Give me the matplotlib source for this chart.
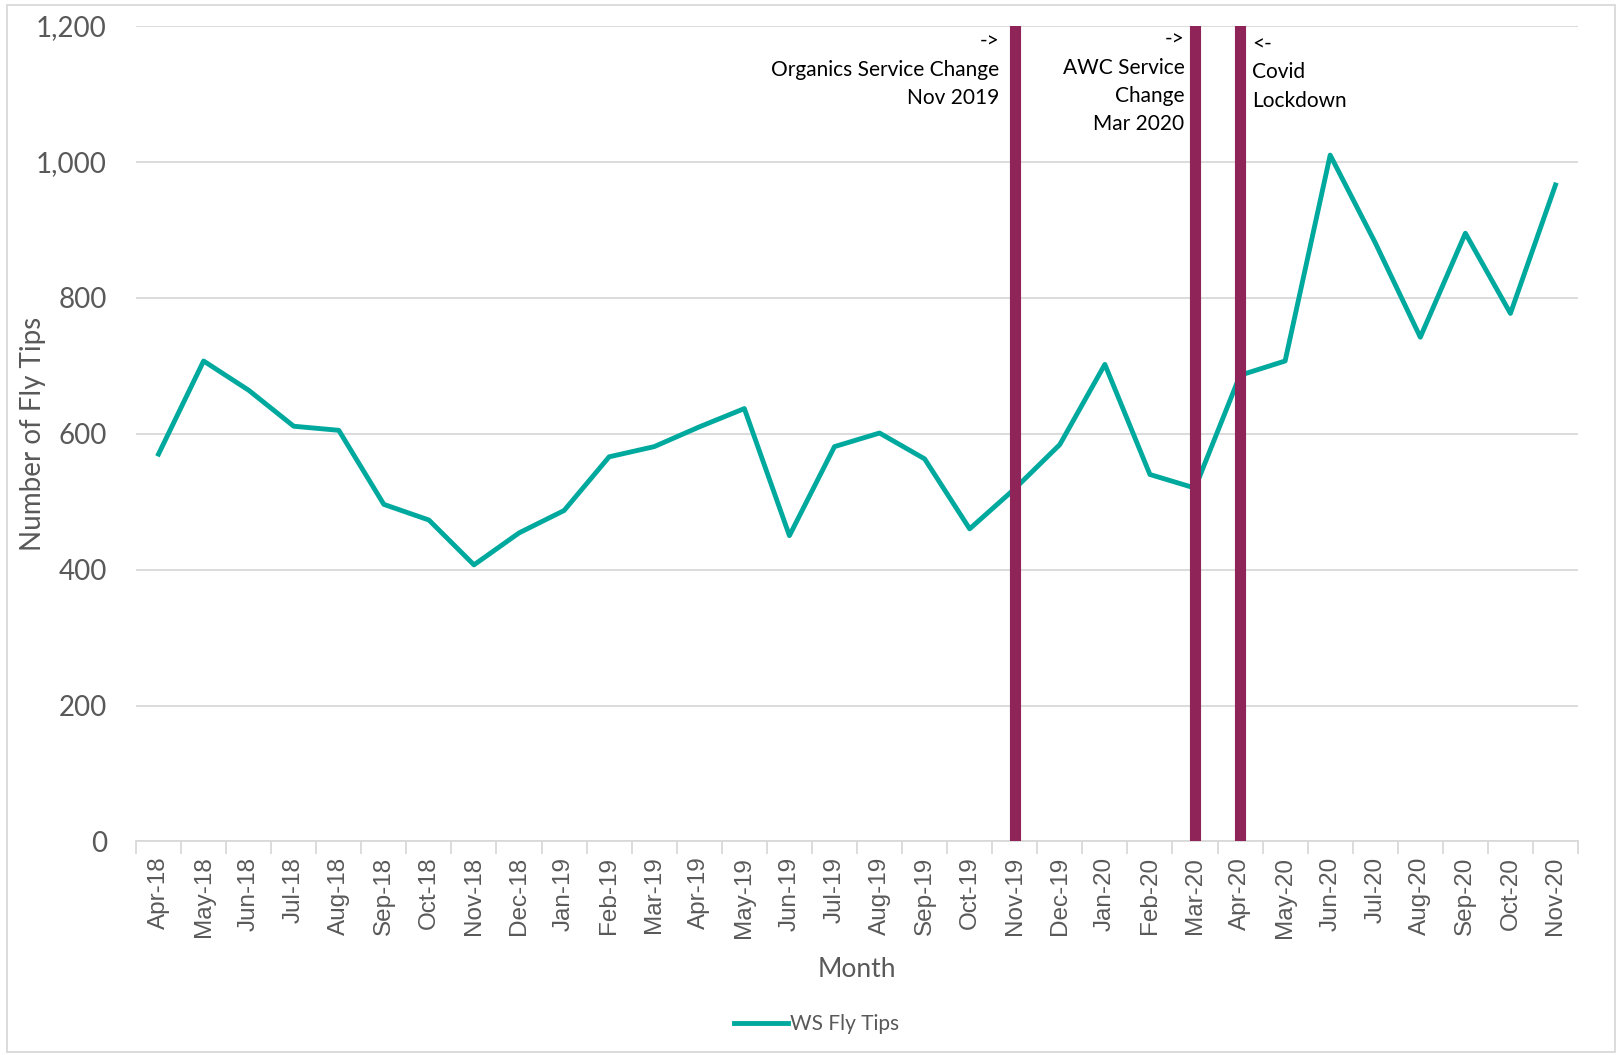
import matplotlib.pyplot as plt
from matplotlib.patches import Rectangle
import numpy as np

# Monthly fly tip counts
months = ['Apr-18', 'May-18', 'Jun-18', 'Jul-18', 'Aug-18', 'Sep-18', 'Oct-18', 'Nov-18',
          'Dec-18', 'Jan-19', 'Feb-19', 'Mar-19', 'Apr-19', 'May-19', 'Jun-19', 'Jul-19',
          'Aug-19', 'Sep-19', 'Oct-19', 'Nov-19', 'Dec-19', 'Jan-20', 'Feb-20', 'Mar-20',
          'Apr-20', 'May-20', 'Jun-20', 'Jul-20', 'Aug-20', 'Sep-20', 'Oct-20', 'Nov-20']
fly_tips = [570, 707, 664, 611, 605, 496, 473, 407, 454, 487, 566, 581, 610, 637, 450, 581,
            601, 563, 460, 519, 584, 702, 540, 520, 686, 707, 1010, 881, 742, 895, 777, 966]

# Event markers
event_months = ['Nov-19', 'Mar-20', 'Apr-20']
event_labels = ['->\nOrganics Service Change\nNov 2019',
                '->\nAWC Service\nChange\nMar 2020',
                '<-\nCovid\nLockdown']

teal = '#00A99D'
maroon = '#8E2457'
grey = '#595959'

plt.rcParams['font.family'] = ['Lato', 'DejaVu Sans']

fig = plt.figure(figsize=(16.17, 10.55), dpi=100)
ax = fig.add_axes([0.0841, 0.2024, 0.8918, 0.773])

x = np.arange(len(months))
ax.plot(x, fly_tips, color=teal, linewidth=3.5, label='WS Fly Tips', zorder=3)

for m in event_months:
    ax.axvline(months.index(m), ymin=0, ymax=1, color=maroon, linewidth=8, zorder=4)

# annotations next to event lines
offsets = [(-0.34, 'right', 1192), (-0.23, 'right', 1195), (0.27, 'left', 1188)]
for m, lab, (dx, ha, ytop) in zip(event_months, event_labels, offsets):
    ax.text(months.index(m) + dx, ytop, lab, ha=ha, va='top', fontsize=15,
            color='black', linespacing=1.52, zorder=5)

ax.set_xlim(-0.5, len(months) - 0.5)
ax.set_ylim(0, 1200)
ax.set_yticks(np.arange(0, 1201, 200))
ax.set_yticklabels([f'{v:,}' for v in range(0, 1201, 200)])
ax.grid(axis='y', color='#D9D9D9', linewidth=1.3)
ax.set_axisbelow(True)

ax.set_xticks(x)
ax.set_xticklabels(months, rotation=90, fontsize=17.5, color=grey, family='Liberation Sans')
ax.set_xticks(np.arange(-0.5, len(months)), minor=True)
ax.tick_params(axis='x', which='major', length=0, pad=11)
ax.tick_params(axis='x', which='minor', length=9, color='#D9D9D9', width=1.3)
ax.tick_params(axis='y', length=0, pad=21, labelsize=20, labelcolor=grey)

for s in ['top', 'right', 'left']:
    ax.spines[s].set_visible(False)
ax.spines['bottom'].set_color('#D9D9D9')
ax.spines['bottom'].set_linewidth(1.3)

ax.set_xlabel('Month', fontsize=19, color=grey, labelpad=14)
ax.set_ylabel('Number of Fly Tips', fontsize=20, color=grey)
ax.yaxis.set_label_coords(-0.0625, 0.5)

fig.legend(loc='center', bbox_to_anchor=(0.505, 0.029), frameon=False, fontsize=15,
           handlelength=2.6, handletextpad=0.1, labelcolor=grey)

fig.patches.append(Rectangle((0.0045, 0.003), 0.994, 0.992, transform=fig.transFigure,
                             fill=False, edgecolor='#D9D9D9', linewidth=1.3))

fig.savefig('out.png', dpi=100)
